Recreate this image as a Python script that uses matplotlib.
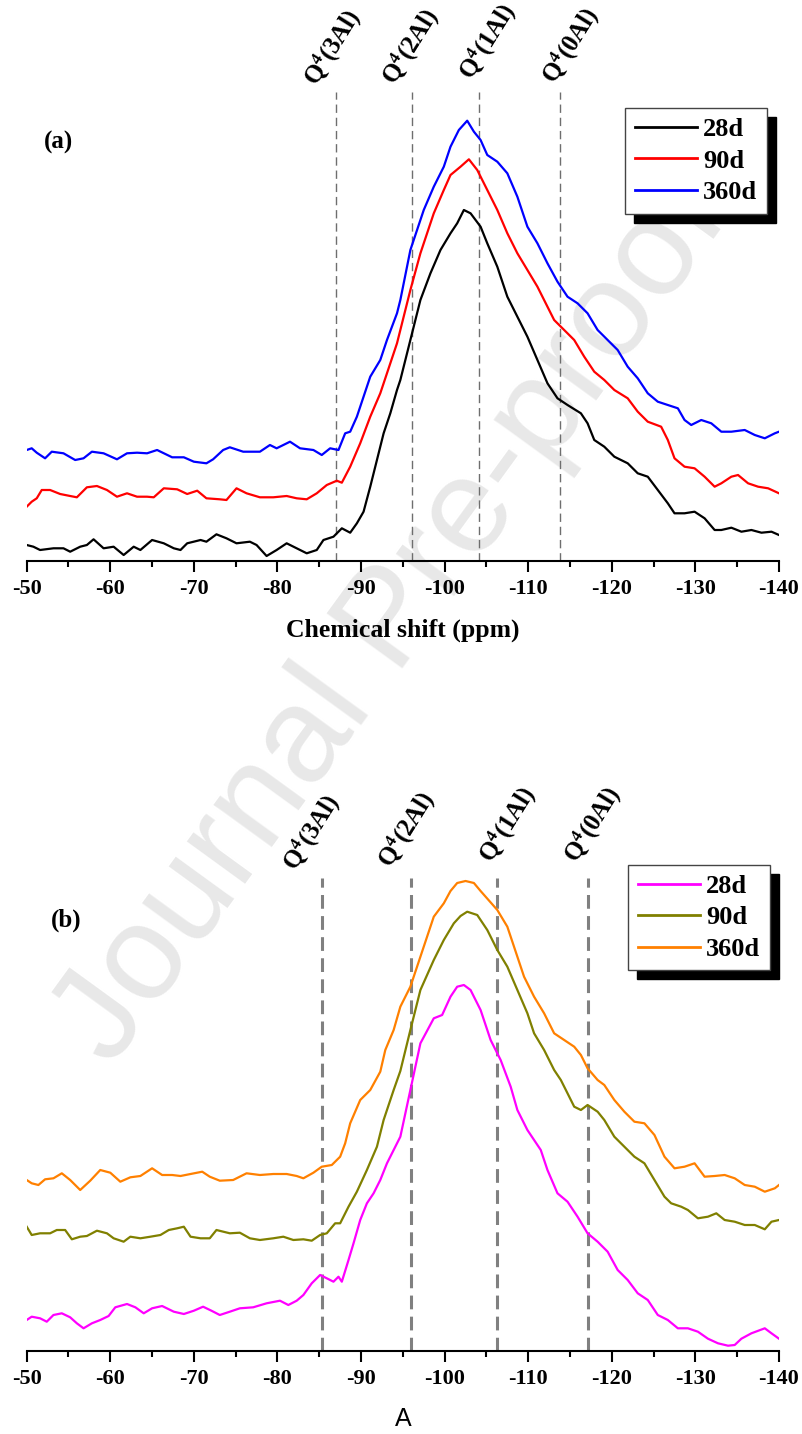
import matplotlib
matplotlib.use('Agg')
import matplotlib.pyplot as plt
from matplotlib.ticker import MultipleLocator

plt.rcParams['font.family'] = ['Liberation Serif', 'DejaVu Serif']
plt.rcParams['font.weight'] = 'bold'
plt.rcParams['axes.unicode_minus'] = False
plt.rcParams['mathtext.fontset'] = 'custom'
plt.rcParams['mathtext.rm'] = 'Liberation Serif:bold'
plt.rcParams['mathtext.bf'] = 'Liberation Serif:bold'
plt.rcParams['mathtext.it'] = 'Liberation Serif:bold:italic'

# ---------------- data: panel (a) ----------------
series_labels = ['28d', '90d', '360d']
a_colors = ['#000000', '#ff0000', '#0000ff']
b_colors = ['#ff00ff', '#808000', '#ff8000']

a_ppm_28 = [-50.0, -50.8, -51.6, -53.2, -54.4, -55.2, -56.4, -57.2, -58.0, -59.2, -60.4, -61.6, -62.8, -63.6,
            -65.0, -66.4, -67.6, -68.4, -69.2, -70.8, -71.5, -72.7, -73.9, -75.1, -76.7, -77.5, -78.7, -79.9,
            -81.1, -82.3, -83.5, -84.7, -85.5, -86.7, -87.7, -88.7, -89.5, -90.3, -91.1, -91.9, -92.7, -93.5,
            -94.3, -94.7, -95.9, -97.1, -98.3, -99.5, -100.7, -101.5, -102.3, -103.1, -104.3, -105.1, -106.3,
            -107.5, -108.7, -109.9, -111.1, -112.3, -113.5, -114.7, -116.3, -117.1, -117.9, -119.1, -120.3,
            -121.9, -123.1, -124.3, -125.5, -126.7, -127.5, -128.7, -129.9, -131.1, -132.3, -133.1, -134.3,
            -135.5, -136.7, -137.9, -139.1, -140.0]
a_int_28 = [16, 14.3, 11, 12.7, 12.7, 9.3, 14.3, 16, 21.7, 12.7, 14.3, 6, 14.3, 11,
            21, 17.7, 12.7, 11, 17.7, 21, 19.3, 26.7, 22.7, 17.7, 19.3, 16, 5, 11,
            17.7, 12.7, 7.7, 11, 21, 24.3, 32.7, 28.3, 37.7, 49.3, 74.3, 101, 127.7, 147.7,
            171, 181, 221, 261, 287.7, 311, 327.7, 337.7, 351, 347.7, 334.3, 317.7, 294.3,
            264.3, 244.3, 224.3, 201, 177.7, 162.7, 156, 147.7, 137.7, 121, 114.3, 104.3,
            97.7, 87.7, 84.3, 71, 57.7, 47.7, 47.7, 49.3, 42.7, 31, 31, 33.3,
            29.3, 31, 28.3, 29.3, 26]

a_ppm_90 = [-50.0, -50.6, -51.2, -51.8, -52.8, -54.0, -55.2, -56.0, -57.2, -58.4, -59.6, -60.8, -62.0, -63.2,
            -64.4, -65.2, -66.4, -68.0, -69.2, -70.4, -71.5, -73.1, -73.9, -75.1, -76.3, -77.9, -79.5, -81.1,
            -82.3, -83.5, -84.7, -85.9, -87.1, -87.7, -88.7, -89.9, -91.1, -92.3, -93.1, -94.3, -94.7, -95.9,
            -97.1, -98.7, -99.9, -100.7, -101.9, -102.9, -103.9, -105.1, -106.3, -107.5, -108.7, -109.9, -111.1,
            -112.3, -113.1, -114.3, -115.5, -116.7, -117.9, -119.1, -120.3, -121.9, -123.1, -124.3, -125.9,
            -126.7, -127.5, -128.7, -129.9, -131.1, -132.3, -133.1, -134.3, -135.1, -136.3, -137.5, -138.7, -140.0]
a_int_90 = [54.3, 59.3, 62.7, 71, 71, 67, 65, 63.7, 73.7, 75, 71, 64.3, 67.7, 64.3,
            64.3, 63.7, 72.7, 71.7, 67, 70.3, 62.7, 61.7, 61, 72.7, 67.7, 63.7, 63.7, 65,
            62.7, 61.7, 67.7, 76, 80.3, 78.3, 94.3, 117.7, 144.3, 167.7, 187.7, 217.7, 231, 271,
            307.7, 347.7, 371, 386, 394.3, 401.7, 391, 371, 351, 327.7, 307.7, 291, 274.3,
            254.3, 241, 231, 221, 204.3, 189.3, 181, 171, 162.7, 149.3, 139.3, 134.3,
            121, 102.7, 94.3, 92.7, 84.3, 74.3, 77.7, 84.3, 86, 77.7, 74.3, 72.7, 67.7]

a_ppm_360 = [-50.0, -50.6, -51.2, -52.2, -53.0, -54.4, -55.8, -56.8, -57.8, -59.2, -60.8, -62.0, -63.2, -64.4,
             -65.6, -67.4, -68.8, -70.0, -71.5, -72.3, -73.5, -74.3, -75.9, -77.9, -79.1, -79.9, -81.5, -82.7,
             -84.3, -85.3, -86.3, -87.3, -88.1, -88.7, -89.5, -90.3, -91.1, -92.3, -93.1, -94.3, -94.7, -95.9,
             -97.5, -98.7, -99.9, -100.7, -101.7, -102.7, -103.5, -104.3, -105.1, -106.3, -107.5, -108.7, -109.9,
             -111.1, -112.3, -113.5, -114.7, -115.9, -117.1, -118.3, -119.5, -120.7, -121.9, -123.1, -124.3,
             -125.5, -126.7, -127.9, -128.7, -129.5, -130.7, -131.9, -133.1, -134.3, -135.9, -137.1, -138.3,
             -139.5, -140.0]
a_int_360 = [111, 112.7, 108.3, 102.7, 109.3, 107.7, 101, 102.7, 109.3, 107.7, 101.7, 107.7, 108.3, 107.7,
             111, 103.7, 103.7, 99.3, 97.7, 101.7, 111, 113.7, 109.3, 109.3, 116, 112.7, 119.3, 112.7,
             111, 106, 112.7, 111, 127.7, 129.3, 144.3, 164.3, 184.3, 201, 221, 247.7, 261, 311,
             351, 374.3, 394.3, 414.3, 431, 440.3, 429.3, 421, 406, 399.3, 387.7, 364.3, 334.3,
             317.7, 297.7, 279.3, 264.3, 257.7, 247.7, 231, 221, 211, 194.3, 182.7, 167.7,
             159.3, 156, 152.7, 141, 136, 141, 137.7, 129.3, 129.3, 131, 126, 122.7,
             127.7, 129.3]

a_sites = [-86.95, -96.06, -104.09, -113.8]

# ---------------- data: panel (b) ----------------
b_ppm_28 = [-50.0, -50.6, -51.6, -52.4, -53.2, -54.2, -55.2, -56.0, -56.8, -57.8, -58.8, -59.8, -60.6, -62.0,
            -63.0, -64.0, -65.0, -66.2, -67.6, -68.8, -70.0, -71.1, -72.1, -73.1, -74.3, -75.5, -77.1, -78.7,
            -80.3, -81.3, -82.3, -83.1, -84.1, -85.1, -85.9, -86.7, -87.3, -87.7, -88.5, -89.1, -89.9, -90.7,
            -91.5, -92.3, -93.1, -93.9, -94.7, -95.9, -97.1, -98.7, -99.7, -100.7, -101.5, -102.3, -103.1,
            -104.3, -105.5, -106.7, -107.9, -108.7, -109.9, -110.7, -111.5, -112.3, -113.5, -114.7, -115.9,
            -117.1, -118.3, -119.5, -120.7, -121.9, -123.1, -124.3, -125.5, -126.7, -127.9, -129.1, -130.3,
            -131.5, -132.7, -133.9, -134.7, -135.5, -136.7, -138.3, -139.1, -140.0]
b_int_28 = [31, 34.3, 32.7, 29.3, 36, 37.7, 33.7, 27.7, 22.7, 27.7, 31, 35, 43.7, 47,
            43.7, 37.7, 42.7, 45, 39.3, 37, 40.3, 44.3, 40.3, 36, 39.3, 42.7, 43.7, 47.7,
            50.3, 46, 50.3, 56, 67.7, 76, 72.7, 69.3, 74.3, 69.3, 91, 107.7, 131, 147.7,
            157.7, 171, 187.7, 201, 214.3, 261, 307.7, 332.7, 336, 354.3, 364.3, 366, 361,
            341, 311, 291, 264.3, 241, 221, 211, 201, 181, 157.7, 149.3, 134.3,
            117.7, 109.3, 99.3, 81, 71, 57.7, 51, 36, 31, 22.7, 22.7, 19.3,
            12.3, 7.7, 5.3, 6, 12.3, 17.7, 22.7, 17.7, 12.3]

b_ppm_90 = [-50.0, -50.6, -51.6, -52.8, -53.6, -54.6, -55.4, -56.4, -57.2, -58.4, -59.6, -60.4, -61.6, -62.4,
            -63.6, -64.8, -66.0, -67.0, -68.0, -68.8, -69.6, -70.8, -71.9, -72.7, -74.3, -75.5, -76.7, -77.9,
            -79.5, -80.7, -81.9, -83.1, -84.1, -85.1, -85.9, -86.9, -87.5, -88.5, -89.5, -90.7, -91.9, -92.7,
            -93.9, -94.7, -95.9, -97.1, -98.7, -99.9, -101.1, -101.9, -102.7, -103.9, -105.1, -106.3, -107.5,
            -108.7, -109.9, -110.7, -111.9, -113.1, -113.9, -114.7, -115.5, -116.3, -117.1, -118.3, -119.1,
            -120.3, -121.5, -122.7, -123.9, -125.1, -126.3, -127.1, -128.3, -129.1, -130.3, -131.5, -132.5,
            -133.5, -134.7, -135.9, -137.1, -138.3, -139.1, -140.0]
b_int_90 = [124.3, 116, 117.7, 117.7, 121, 121, 111.7, 114.3, 115, 120.3, 117.7, 112.7, 109.3, 114.3,
            112.7, 114.3, 116, 121, 122.7, 124.3, 114.3, 112.7, 112.7, 121, 117.7, 118.3, 112.7, 111,
            112.7, 114.3, 111, 111.7, 110.3, 116, 117.7, 127.7, 127.7, 144.3, 159.3, 181, 204.3, 231,
            261, 280, 321, 361, 391, 411, 427.7, 435, 439.3, 436, 421, 401, 384.3,
            361, 337.7, 317.7, 301, 281, 271, 257.7, 244.3, 241, 246, 239.3, 231,
            214.3, 204.3, 194.3, 187.7, 171, 154.3, 147.7, 144.3, 141, 132.7, 134.3, 137.7,
            131, 129.3, 126, 126, 121.7, 129.3, 131]

b_ppm_360 = [-50.0, -50.6, -51.4, -52.2, -53.2, -54.2, -55.2, -56.4, -57.6, -58.8, -60.0, -61.2, -62.4, -63.6,
             -65.0, -66.2, -67.4, -68.4, -69.6, -71.0, -71.9, -73.1, -74.7, -76.3, -77.9, -79.5, -81.1, -82.3,
             -83.1, -84.3, -85.3, -86.5, -87.5, -88.1, -88.7, -89.9, -91.1, -92.3, -92.9, -93.9, -94.7, -95.9,
             -97.1, -98.7, -99.9, -100.7, -101.5, -102.5, -103.5, -104.3, -106.3, -107.5, -108.7, -109.5, -110.7,
             -111.9, -113.1, -114.3, -115.5, -116.3, -117.1, -118.3, -119.1, -120.3, -121.5, -122.7, -123.9,
             -125.1, -126.3, -127.5, -128.7, -129.9, -131.1, -132.3, -133.5, -134.7, -135.9, -137.1, -138.3,
             -139.5, -140.0]
b_int_360 = [171, 167.7, 166, 171.7, 172.7, 177.7, 171, 161, 170.3, 181, 178.3, 169.3, 173.7, 175,
             182.7, 176, 176, 175, 177, 179.3, 174.3, 170.3, 171, 177.7, 176, 177, 177, 175,
             172.7, 178.3, 184.3, 186, 194.3, 207.7, 227.7, 251, 261, 279.3, 301, 321, 344.3, 364.3,
             394.3, 434.3, 447.7, 460, 468, 470, 468, 460, 441, 424.3, 394.3, 374.3, 354.3,
             337.7, 317.7, 311, 304.3, 296, 282.7, 271, 266, 251, 239.3, 229.3, 227.7,
             216, 194.3, 182.7, 184.3, 187.7, 174.3, 175, 176, 172.7, 166, 164.3, 159.3,
             162.7, 166]

b_sites = [-85.35, -95.94, -106.21, -117.11]

site_labels = [r'$\mathbf{Q^{4}(3Al)}$', r'$\mathbf{Q^{4}(2Al)}$',
               r'$\mathbf{Q^{4}(1Al)}$', r'$\mathbf{Q^{4}(0Al)}$']

xticks = [-50, -60, -70, -80, -90, -100, -110, -120, -130, -140]

# ---------------- layout ----------------
W, H = 802, 1434
fig = plt.figure(figsize=(W / 100, H / 100), dpi=100)

fig.text(392 / W, 1 - 622 / H, 'Journal Pre-proof', rotation=54, ha='center', va='center',
         rotation_mode='anchor', fontsize=98, color='#e8e8e8', family='Liberation Sans',
         fontweight='normal', zorder=-1)

axA = fig.add_axes([26.7 / W, (H - 561) / H, 752.3 / W, 471 / H])
axB = fig.add_axes([26.7 / W, (H - 1351) / H, 752.3 / W, 476 / H])

def px2ppm(x):
    return -50 - (x - 26.7) / 8.359

panels = [
    (axA, [(a_ppm_28, a_int_28), (a_ppm_90, a_int_90), (a_ppm_360, a_int_360)], a_colors, a_sites,
     471, 469, dict(lw=1.0, color='#6e6e6e', dashes=(6, 3.5)),
     [(px2ppm(333), 561 - 48), (px2ppm(411), 561 - 47), (px2ppm(488), 561 - 42), (px2ppm(571), 561 - 46)],
     '(a)', (-53.75, 419), (0.9837, 0.961)),
    (axB, [(b_ppm_28, b_int_28), (b_ppm_90, b_int_90), (b_ppm_360, b_int_360)], b_colors, b_sites,
     476, 473, dict(lw=2.2, color='#808080', dashes=(4.5, 2.4)),
     [(px2ppm(312), 1351 - 833), (px2ppm(407), 1351 - 830), (px2ppm(508), 1351 - 825), (px2ppm(593), 1351 - 825)],
     '(b)', (-54.7, 431), (0.988, 1.021)),
]

for ax, curves, colors, sites, ytop, ltop, lstyle, lpos, tag, tagpos, legpos in panels:
    ax.patch.set_alpha(0)
    for (xs, ys), c, lab in zip(curves, colors, series_labels):
        ax.plot(xs, ys, color=c, lw=1.6, label=lab, zorder=3)
    for s in sites:
        ax.plot([s, s], [0, ltop], solid_capstyle='butt', zorder=2, **lstyle)
    for (px, py), t in zip(lpos, site_labels):
        ax.text(px, py, t, rotation=58, ha='center', va='center', rotation_mode='anchor',
                fontsize=18, clip_on=False)
    ax.text(tagpos[0], tagpos[1], tag, ha='center', va='center', fontsize=18, fontweight='bold')
    ax.set_xlim(-50, -140)
    ax.set_ylim(0, ytop)
    for sp in ['left', 'right', 'top']:
        ax.spines[sp].set_visible(False)
    ax.spines['bottom'].set_linewidth(1.5)
    ax.set_yticks([])
    ax.set_xticks(xticks)
    ax.xaxis.set_minor_locator(MultipleLocator(5))
    ax.tick_params(axis='x', which='major', length=8, width=1.5, direction='out', pad=5,
                   labelsize=16)
    ax.tick_params(axis='x', which='minor', length=4, width=1.5, direction='out')
    for lbl in ax.get_xticklabels():
        lbl.set_fontweight('bold')
    leg = ax.legend(loc='upper right', bbox_to_anchor=legpos, borderaxespad=0,
                    prop={'weight': 'bold', 'size': 19}, frameon=True, fancybox=False,
                    edgecolor='#444444', framealpha=1, handlelength=2.35, handletextpad=0.25,
                    labelspacing=0.3, borderpad=0.36,
                    shadow={'facecolor': 'black', 'edgecolor': 'black', 'alpha': 1,
                            'ox': 6.5, 'oy': -6.5})
    leg.get_frame().set_linewidth(1.0)
    for ln in leg.get_lines():
        ln.set_linewidth(2.0)

axA.set_xlabel('Chemical shift (ppm)', fontsize=18.5, fontweight='bold')
axA.xaxis.set_label_coords(0.5, -0.122)
axB.set_xlabel('A', fontsize=18, fontweight='normal', family='Liberation Sans')
axB.xaxis.set_label_coords(0.5, -0.118)

fig.savefig('out.png', dpi=100)
